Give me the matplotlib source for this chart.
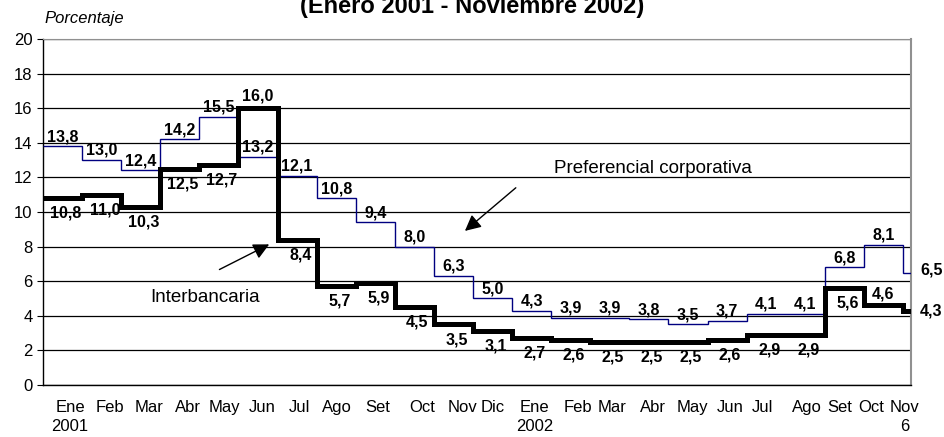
import numpy as np
import matplotlib.pyplot as plt

plt.rcParams['font.family'] = ['Liberation Sans', 'DejaVu Sans']

# Monthly rates, Jan 2001 - Nov 2002 (last month up to Nov 6)
months = ["Ene", "Feb", "Mar", "Abr", "May", "Jun", "Jul", "Ago", "Set", "Oct", "Nov", "Dic",
          "Ene", "Feb", "Mar", "Abr", "May", "Jun", "Jul", "Ago", "Set", "Oct", "Nov"]
sub_labels = {0: "2001", 12: "2002", 22: "6"}
preferencial = [13.8, 13.0, 12.4, 14.2, 15.5, 13.2, 12.1, 10.8, 9.4, 8.0, 6.3, 5.0,
                4.3, 3.9, 3.9, 3.8, 3.5, 3.7, 4.1, 4.1, 6.8, 8.1, 6.5]
interbancaria = [10.8, 11.0, 10.3, 12.5, 12.7, 16.0, 8.4, 5.7, 5.9, 4.5, 3.5, 3.1,
                 2.7, 2.6, 2.5, 2.5, 2.5, 2.6, 2.9, 2.9, 5.6, 4.6, 4.3]
last_fraction = 6 / 31  # Nov 2002 covers only 6 days

# tick label centres (in month units), as laid out in the original
tick_pos = [0.69, 1.71, 2.71, 3.71, 4.63, 5.60, 6.57, 7.52, 8.57, 9.69, 10.74, 11.51,
            12.58, 13.68, 14.55, 15.60, 16.62, 17.57, 18.41, 19.54, 20.38, 21.20, 22.05]
black_above = {5, 21}

n = len(months)
x_edges = np.arange(n + 1, dtype=float)
x_edges[-1] = n - 1 + last_fraction

fig = plt.figure(figsize=(9.45, 4.37), dpi=100)
ax = fig.add_axes([0.0455, 0.119, 0.918, 0.792])

ax.stairs(preferencial, x_edges, color='#000080', linewidth=1.0, baseline=None, zorder=3)
ax.stairs(interbancaria, x_edges, color='black', linewidth=3.6, baseline=None, zorder=4)

ax.set_xlim(0, x_edges[-1])
ax.set_ylim(0, 20)
ax.set_yticks(range(0, 21, 2))
ax.grid(axis='y', color='black', linewidth=0.9)
ax.set_axisbelow(True)
ax.tick_params(axis='y', labelsize=12, length=4, width=0.8)
ax.tick_params(axis='x', length=0, labelsize=12, pad=11)
ax.spines['top'].set_color('#909090')
ax.spines['right'].set_color('#909090')
ax.spines['right'].set_linewidth(1.5)
ax.spines['left'].set_linewidth(1.0)
ax.spines['bottom'].set_linewidth(1.0)

labels = [m + ("\n" + sub_labels[i] if i in sub_labels else "\n") for i, m in enumerate(months)]
ax.set_xticks(tick_pos)
ax.set_xticklabels(labels, linespacing=1.3)

def fmt(v):
    return f"{v:.1f}".replace(".", ",")

lab_size = 11.5
for i in range(n):
    mid = (x_edges[i] + x_edges[i + 1]) / 2
    if i == n - 1:
        ax.annotate(fmt(preferencial[i]), (x_edges[-1], preferencial[i]), xytext=(7, 2),
                    textcoords='offset points', ha='left', va='center',
                    fontsize=lab_size, fontweight='bold', annotation_clip=False)
        ax.annotate(fmt(interbancaria[i]), (x_edges[-1], interbancaria[i]), xytext=(7, 0),
                    textcoords='offset points', ha='left', va='center',
                    fontsize=lab_size, fontweight='bold', annotation_clip=False)
        continue
    ax.annotate(fmt(preferencial[i]), (mid, preferencial[i]), xytext=(0, 1.5),
                textcoords='offset points', ha='center', va='bottom',
                fontsize=lab_size, fontweight='bold', zorder=5)
    if i in black_above:
        ax.annotate(fmt(interbancaria[i]), (mid, interbancaria[i]), xytext=(0, 3),
                    textcoords='offset points', ha='center', va='bottom',
                    fontsize=lab_size, fontweight='bold', zorder=5)
    else:
        ax.annotate(fmt(interbancaria[i]), (mid + 0.08, interbancaria[i]), xytext=(0, -5.5),
                    textcoords='offset points', ha='center', va='top',
                    fontsize=lab_size, fontweight='bold', zorder=5)

# series annotations with arrows
ax.text(15.6, 12.5, "Preferencial corporativa", fontsize=13.5, ha='center', va='center')
ax.annotate("", xy=(10.74, 8.8), xytext=(12.15, 11.5),
            arrowprops=dict(arrowstyle='-|>', color='black', lw=1.0, mutation_scale=24))
ax.text(4.15, 5.05, "Interbancaria", fontsize=13.5, ha='center', va='center')
ax.annotate("", xy=(5.85, 8.2), xytext=(4.45, 6.6),
            arrowprops=dict(arrowstyle='-|>', color='black', lw=1.0, mutation_scale=24))

fig.text(0.047, 0.957, "Porcentaje", fontsize=12, style='italic', ha='left', va='center')
fig.text(0.5, 0.970, "(Enero 2001 - Noviembre 2002)", fontsize=17, fontweight='bold',
         ha='center', va='baseline')

fig.savefig("out.png", dpi=100)
